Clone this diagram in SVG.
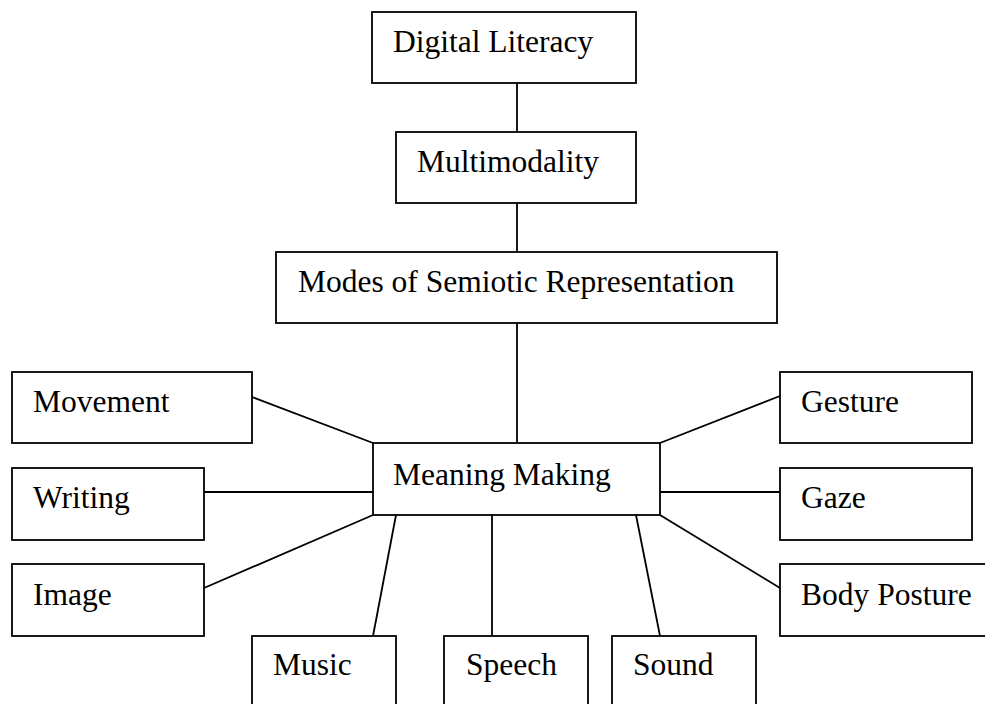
<svg xmlns="http://www.w3.org/2000/svg" width="985" height="704" viewBox="0 0 985 704">
  <style>
    .box { fill: #fff; stroke: #000; stroke-width: 1.8; }
    .lbl { font-family: "Liberation Serif", "Times New Roman", serif; font-size: 31.5px; fill: #000; }
    .link { stroke: #000; stroke-width: 1.8; fill: none; }
  </style>
  <rect width="985" height="704" fill="#fff"/>

  <g id="connectors">
    <line class="link" x1="517" y1="83" x2="517" y2="132"/>
    <line class="link" x1="517" y1="203" x2="517" y2="252"/>
    <line class="link" x1="517" y1="323" x2="517" y2="443"/>
    <line class="link" x1="252" y1="397" x2="373" y2="443"/>
    <line class="link" x1="204" y1="492" x2="373" y2="492"/>
    <line class="link" x1="204" y1="588" x2="373" y2="515"/>
    <line class="link" x1="396" y1="515" x2="373" y2="636"/>
    <line class="link" x1="492" y1="515" x2="492" y2="636"/>
    <line class="link" x1="636" y1="515" x2="660" y2="636"/>
    <line class="link" x1="660" y1="443" x2="780" y2="396"/>
    <line class="link" x1="660" y1="492" x2="780" y2="492"/>
    <line class="link" x1="660" y1="515" x2="780" y2="588"/>
  </g>

  <g id="digital-literacy">
    <rect class="box" x="372" y="12" width="264" height="71"/>
    <text class="lbl" x="393" y="52">Digital Literacy</text>
  </g>
  <g id="multimodality">
    <rect class="box" x="396" y="132" width="240" height="71"/>
    <text class="lbl" x="417" y="172">Multimodality</text>
  </g>
  <g id="modes">
    <rect class="box" x="276" y="252" width="501" height="71"/>
    <text class="lbl" x="298" y="292">Modes of Semiotic Representation</text>
  </g>
  <g id="meaning-making">
    <rect class="box" x="373" y="443" width="287" height="72"/>
    <text class="lbl" x="393" y="485">Meaning Making</text>
  </g>
  <g id="movement">
    <rect class="box" x="12" y="372" width="240" height="71"/>
    <text class="lbl" x="33" y="412">Movement</text>
  </g>
  <g id="writing">
    <rect class="box" x="12" y="468" width="192" height="72"/>
    <text class="lbl" x="33" y="508">Writing</text>
  </g>
  <g id="image">
    <rect class="box" x="12" y="564" width="192" height="72"/>
    <text class="lbl" x="33" y="605">Image</text>
  </g>
  <g id="music">
    <rect class="box" x="252" y="636" width="144" height="80"/>
    <text class="lbl" x="273" y="675">Music</text>
  </g>
  <g id="speech">
    <rect class="box" x="444" y="636" width="144" height="80"/>
    <text class="lbl" x="466" y="675">Speech</text>
  </g>
  <g id="sound">
    <rect class="box" x="612" y="636" width="144" height="80"/>
    <text class="lbl" x="633" y="675">Sound</text>
  </g>
  <g id="gesture">
    <rect class="box" x="780" y="372" width="192" height="71"/>
    <text class="lbl" x="801" y="412">Gesture</text>
  </g>
  <g id="gaze">
    <rect class="box" x="780" y="468" width="192" height="72"/>
    <text class="lbl" x="801" y="508">Gaze</text>
  </g>
  <g id="body-posture">
    <rect class="box" x="780" y="564" width="220" height="72"/>
    <text class="lbl" x="801" y="605">Body Posture</text>
  </g>
</svg>
